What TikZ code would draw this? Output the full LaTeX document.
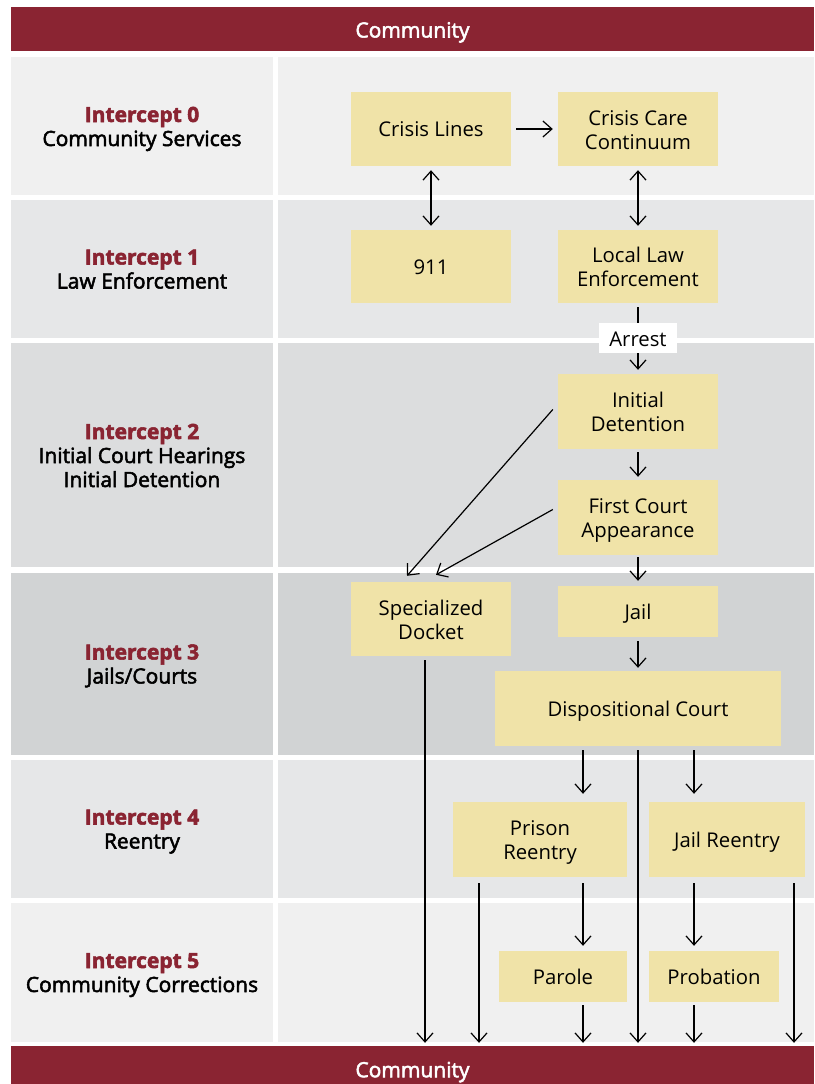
\documentclass[tikz,border=0pt]{standalone}
\usepackage{fontspec}
\setmainfont{Open Sans}
\newfontfamily\semib{Open Sans}[FakeBold=2.5]
\usetikzlibrary{arrows.meta,calc}
\definecolor{barred}{HTML}{8A2432}
\definecolor{boxc}{HTML}{F0E3A8}
\definecolor{rA}{HTML}{F0F0F0}
\definecolor{rB}{HTML}{E6E7E8}
\definecolor{rC}{HTML}{DCDDDE}
\definecolor{rD}{HTML}{D1D3D4}
\begin{document}
\begin{tikzpicture}[x=1pt,y=-1pt,
  box/.style={fill=boxc, inner sep=0pt, align=center, font=\fontsize{20.3}{24}\selectfont, text height=15.5pt, text depth=0pt},
  boxtwo/.style={box, text height=40.5pt},
  bar/.style={fill=barred, text=white, inner sep=0pt, minimum width=803pt, font=\semib\fontsize{21}{24}\selectfont, text depth=0pt},
  lbl/.style={align=center, inner sep=0pt, font=\semib\fontsize{21}{24}\selectfont, text height=39pt, text depth=0pt},
  arr/.style={line width=1.2pt, -{Straight Barb[length=9pt,width=16pt,line width=1.2pt]}},
  darr/.style={line width=1.2pt, {Straight Barb[length=9pt,width=16pt,line width=1.2pt]}-{Straight Barb[length=9pt,width=16pt,line width=1.2pt]}},
  ln/.style={line width=1.2pt}]
\useasboundingbox (0,0) rectangle (814,1084);
% row backgrounds
\fill[rA] (11,57) rectangle (273,195); \fill[rA] (278,57) rectangle (814,195);
\fill[rB] (11,200) rectangle (273,338); \fill[rB] (278,200) rectangle (814,338);
\fill[rC] (11,343) rectangle (273,567); \fill[rC] (278,343) rectangle (814,567);
\fill[rD] (11,573) rectangle (273,755); \fill[rD] (278,573) rectangle (814,755);
\fill[rB] (11,760) rectangle (273,898); \fill[rB] (278,760) rectangle (814,898);
\fill[rA] (11,903) rectangle (273,1042); \fill[rA] (278,903) rectangle (814,1042);
% bars
\node[bar, minimum height=44pt, text height=17pt] (ctop) at (412.5,29) {Community};
\node[bar, minimum height=48pt, text height=14.5pt] (cbot) at (412.5,1070) {Community};
% left labels
\node[lbl] (l0) at (142,126.5) {\textcolor{barred}{\bfseries Intercept 0}\\Community Services};
\node[lbl] (l1) at (142,269) {\textcolor{barred}{\bfseries Intercept 1}\\Law Enforcement};
\node[lbl, text height=63pt] (l2) at (142,455.5) {\textcolor{barred}{\bfseries Intercept 2}\\Initial Court Hearings\\Initial Detention};
\node[lbl] (l3) at (142,664) {\textcolor{barred}{\bfseries Intercept 3}\\Jails/Courts};
\node[lbl] (l4) at (142,829) {\textcolor{barred}{\bfseries Intercept 4}\\Reentry};
\node[lbl] (l5) at (142,972.5) {\textcolor{barred}{\bfseries Intercept 5}\\Community Corrections};
% boxes
\node[box, minimum width=160pt, minimum height=74pt] (cl) at (431,129) {Crisis Lines};
\node[boxtwo, minimum width=160pt, minimum height=74pt] (cc) at (638,129) {Crisis Care\\Continuum};
\node[box, minimum width=160pt, minimum height=73pt] (n911) at (431,266.5) {911};
\node[boxtwo, minimum width=160pt, minimum height=73pt] (lle) at (638,266.5) {Local Law\\Enforcement};
\node[fill=white, inner sep=0pt, minimum width=78pt, minimum height=30pt, font=\fontsize{20.3}{24}\selectfont, text height=16.1pt, text depth=0pt] (arrest) at (638,338) {Arrest};
\node[boxtwo, minimum width=160pt, minimum height=75pt] (id) at (638,411.5) {Initial\\Detention};
\node[boxtwo, minimum width=160pt, minimum height=75pt] (fca) at (638,517.5) {First Court\\Appearance};
\node[boxtwo, minimum width=160pt, minimum height=74pt] (sd) at (431,619) {Specialized\\Docket};
\node[box, minimum width=160pt, minimum height=51pt] (jail) at (638,611.5) {Jail};
\node[box, minimum width=286pt, minimum height=75pt] (dc) at (638,708.5) {Dispositional Court};
\node[boxtwo, minimum width=174pt, minimum height=75pt] (pr) at (540,839.5) {Prison\\Reentry};
\node[box, minimum width=156pt, minimum height=75pt] (jr) at (727,839.5) {Jail Reentry};
\node[box, minimum width=128pt, minimum height=51pt] (par) at (563,976.5) {Parole};
\node[box, minimum width=130pt, minimum height=51pt] (prob) at (714,976.5) {Probation};
% column coordinates
\coordinate (ca) at (583,0);
\coordinate (cb) at (694,0);
\coordinate (cpl) at (479,0);
\coordinate (cjr) at (794,0);
\coordinate (csd) at (425,0);
% connectors
\draw[arr, shorten <=5pt, shorten >=5pt] (cl) -- (cc);
\draw[darr, shorten <=4pt, shorten >=4pt] (cl) -- (n911);
\draw[darr, shorten <=4pt, shorten >=4pt] (cc) -- (lle);
\draw[ln, shorten <=4pt] (lle) -- (arrest);
\draw[arr, shorten >=4pt] (arrest) -- (id);
\draw[arr, shorten <=3pt, shorten >=3pt] (id) -- (fca);
\draw[arr, shorten <=2pt, shorten >=5pt] (fca) -- (jail);
\draw[arr, shorten <=4pt, shorten >=3pt] (jail) -- (dc);
\draw[arr] ([xshift=-5pt,yshift=2pt]id.west) -- ([xshift=-24pt,yshift=6pt]sd.north);
\draw[arr] ([xshift=-5pt,yshift=8pt]fca.west) -- ([xshift=5pt,yshift=7pt]sd.north);
\draw[arr, shorten <=4pt, shorten >=3pt] (sd.south -| csd) -- (cbot.north -| csd);
\draw[arr, shorten <=4pt, shorten >=8pt] (dc.south -| ca) -- (pr.north -| ca);
\draw[arr, shorten <=4pt, shorten >=8pt] (dc.south -| cb) -- (jr.north -| cb);
\draw[arr, shorten <=4pt, shorten >=3pt] (dc.south) -- (dc.south |- cbot.north);
\draw[arr, shorten <=6pt, shorten >=3pt] (pr.south -| cpl) -- (cbot.north -| cpl);
\draw[arr, shorten <=6pt, shorten >=5pt] (pr.south -| ca) -- (par.north -| ca);
\draw[arr, shorten <=6pt, shorten >=5pt] (jr.south -| cb) -- (prob.north -| cb);
\draw[arr, shorten <=6pt, shorten >=3pt] (jr.south -| cjr) -- (cbot.north -| cjr);
\draw[arr, shorten <=3pt, shorten >=3pt] (par.south -| ca) -- (cbot.north -| ca);
\draw[arr, shorten <=3pt, shorten >=3pt] (prob.south -| cb) -- (cbot.north -| cb);
\end{tikzpicture}
\end{document}
